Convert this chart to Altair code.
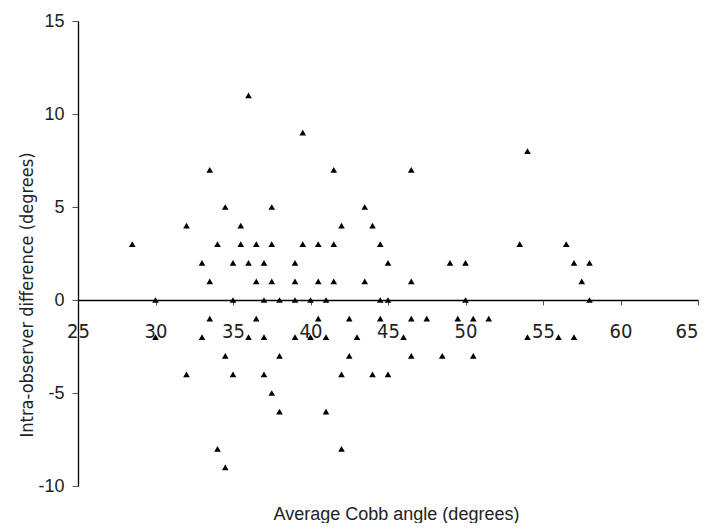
import altair as alt
import pandas as pd

# Average Cobb angle (x) and intra-observer difference (y)
avg_cobb = [
    36,                                     # 11
    39.5,                                   # 9
    54,                                     # 8
    33.5, 41.5, 46.5,                       # 7
    34.5, 37.5, 43.5,                       # 5
    32, 35.5, 42, 44,                       # 4
    28.5, 34, 35.5, 36.5, 37.5, 39.5, 40.5, 41.5, 44.5, 53.5, 56.5,  # 3
    33, 35, 36, 37, 39, 45, 49, 50, 57, 58,                          # 2
    33.5, 36.5, 37.5, 39, 40.5, 41.5, 43.5, 46.5, 57.5,              # 1
    30, 35, 37, 38, 39, 40, 41, 44.5, 45, 50, 58,                    # 0
    33.5, 36.5, 40.5, 42.5, 44.5, 46.5, 47.5, 49.5, 50.5, 51.5,      # -1
    30, 33, 36, 37, 39, 40, 41, 43, 46, 54, 56, 57,                  # -2
    34.5, 38, 42.5, 46.5, 48.5, 50.5,       # -3
    32, 35, 37, 42, 44, 45,                 # -4
    37.5,                                   # -5
    38, 41,                                 # -6
    34, 42,                                 # -8
    34.5,                                   # -9
]
intra_diff = (
    [11] * 1 + [9] * 1 + [8] * 1 + [7] * 3 + [5] * 3 + [4] * 4 + [3] * 11
    + [2] * 10 + [1] * 9 + [0] * 11 + [-1] * 10 + [-2] * 12 + [-3] * 6
    + [-4] * 6 + [-5] * 1 + [-6] * 2 + [-8] * 2 + [-9] * 1
)

x_ticks = [25, 30, 35, 40, 45, 50, 55, 60, 65]
y_ticks = [-10, -5, 0, 5, 10, 15]
x_title = "Average Cobb angle (degrees)"
y_title = "Intra-observer difference (degrees)"

df = pd.DataFrame({"avg": avg_cobb, "diff": intra_diff})
title_df = pd.DataFrame({"t": [y_title]})

W, H = 620, 465
NARROW = "Liberation Sans Narrow, DejaVu Sans Condensed, sans-serif"
REGULAR = "Liberation Sans, Arial, sans-serif"

points = alt.Chart(df).mark_point(
    shape="triangle-up", filled=True, color="black", opacity=1, size=44
).encode(
    x=alt.X(
        "avg:Q",
        scale=alt.Scale(domain=[25, 65], nice=False, zero=False),
        axis=alt.Axis(
            values=x_ticks,
            title=x_title,
            offset=-186,
            grid=False,
            domainColor="black",
            domainWidth=1.3,
            tickColor="#555",
            tickSize=5,
            labelPadding=16,
            labelFont=NARROW,
            labelFontSize=20,
            labelColor="#222",
            labelFlush=False,
            labelOverlap=False,
            labelAlign=alt.condition("datum.value == 65", alt.value("right"), alt.value("center")),
            titleFont=REGULAR,
            titleFontSize=18,
            titleFontWeight="normal",
            titleColor="#222",
            titleX=318,
            titleY=219,
            titleAlign="center",
            titleBaseline="alphabetic",
        ),
    ),
    y=alt.Y(
        "diff:Q",
        scale=alt.Scale(domain=[-10, 15], nice=False, zero=False),
        axis=alt.Axis(
            values=y_ticks,
            title=None,
            grid=False,
            domainColor="black",
            domainWidth=1.3,
            tickColor="#555",
            tickSize=6,
            labelPadding=8,
            labelFont=REGULAR,
            labelFontSize=18,
            labelColor="#222",
            labelFlush=False,
            labelOverlap=False,
            labelExpr="toString(datum.value)",
        ),
    ),
)

ytitle = alt.Chart(title_df).mark_text(
    angle=270, font=NARROW, fontSize=18, color="#222", align="center", baseline="middle"
).encode(
    x=alt.value(-50),
    y=alt.value(274),
    text="t:N",
)

chart = alt.layer(points, ytitle).properties(
    width=W,
    height=H,
    autosize=alt.AutoSizeParams(type="none"),
    padding={"left": 70, "top": 13, "right": 2, "bottom": 37},
).configure_view(strokeWidth=0)

chart.save("out.html", embed_options={"renderer": "svg", "actions": False})
